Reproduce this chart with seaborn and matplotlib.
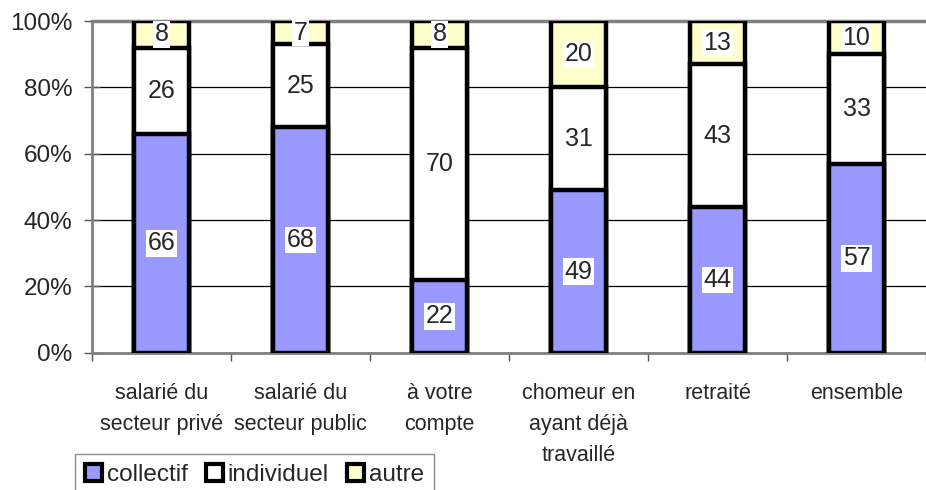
import numpy as np
import pandas as pd
import seaborn as sns
import matplotlib.pyplot as plt
from matplotlib.patches import Patch
from matplotlib.ticker import FuncFormatter, FixedLocator

# données (en %)
categories = ['salarié du\nsecteur privé', 'salarié du\nsecteur public', 'à votre\ncompte',
              'chomeur en\nayant déjà\ntravaillé', 'retraité', 'ensemble']
collectif = [66, 68, 22, 49, 44, 57]
individuel = [26, 25, 70, 31, 43, 33]
autre = [8, 7, 8, 20, 13, 10]

c_coll = '#9999FF'
c_ind = '#FFFFFF'
c_aut = '#FFFFCC'

df = pd.DataFrame({'cat': categories, 'collectif': collectif,
                   'individuel': individuel, 'autre': autre})
df['bas'] = df['collectif']
df['milieu'] = df['collectif'] + df['individuel']
df['total'] = df['milieu'] + df['autre']

sns.set_style('white')
plt.rcParams['font.family'] = ['Liberation Sans', 'DejaVu Sans']
narrow = ['Liberation Sans Narrow', 'Liberation Sans', 'DejaVu Sans']

fig = plt.figure(figsize=(9.26, 4.9), dpi=100)
ax = fig.add_axes([0.0994, 0.280, 0.9006, 0.677])

# barres empilées : on dessine du total vers le bas
lw = 3.2
for col, c in [('total', c_aut), ('milieu', c_ind), ('bas', c_coll)]:
    sns.barplot(data=df, x='cat', y=col, color=c, saturation=1, width=0.4,
                edgecolor='black', linewidth=lw, ax=ax, zorder=3)
for p in ax.patches:
    p.set_joinstyle('miter')

# étiquettes de valeurs
box = dict(boxstyle='square,pad=0.05', facecolor='white', edgecolor='none')
for i, row in df.iterrows():
    ax.text(i, row['collectif'] / 2, str(row['collectif']), ha='center', va='center',
            fontsize=18, bbox=box, zorder=5)
    ax.text(i, row['collectif'] + row['individuel'] / 2, str(row['individuel']),
            ha='center', va='center', fontsize=18, bbox=box, zorder=5)
    ax.text(i, row['milieu'] + row['autre'] / 2, str(row['autre']), ha='center',
            va='center', fontsize=18, bbox=box, zorder=5)

# axes
ax.set_xlim(-0.5, len(categories) - 0.5)
ax.set_ylim(0, 100)
ax.set_yticks(np.arange(0, 101, 20))
ax.yaxis.set_major_formatter(FuncFormatter(lambda v, _: f'{v:.0f}%'))
ax.set_xlabel('')
ax.set_ylabel('')

ax.yaxis.grid(True, color='black', linewidth=0.9)
ax.set_axisbelow(True)
ax.tick_params(axis='y', left=True, direction='inout', length=12, width=1,
               color='#555555', labelsize=17.5, pad=8)
ax.tick_params(axis='x', which='major', length=0, pad=22)
ax.xaxis.set_minor_locator(FixedLocator(np.arange(-0.5, len(categories), 1)))
ax.tick_params(axis='x', which='minor', bottom=True, length=6, width=1, color='#555555')
for lab in ax.get_xticklabels():
    lab.set_family(narrow)
    lab.set_fontsize(15.5)
    lab.set_linespacing(1.6)
    lab.set_va('top')

for s in ['left', 'bottom', 'top']:
    ax.spines[s].set_color('#808080')
    ax.spines[s].set_linewidth(2)
ax.spines['top'].set_linewidth(2.5)
ax.spines['right'].set_visible(False)

# légende
handles = [Patch(facecolor=c_coll, edgecolor='black', linewidth=3, label='collectif'),
           Patch(facecolor=c_ind, edgecolor='black', linewidth=3, label='individuel'),
           Patch(facecolor=c_aut, edgecolor='black', linewidth=3, label='autre')]
leg = fig.legend(handles=handles, loc='upper left', bbox_to_anchor=(0.081, 0.073),
                 ncol=3, frameon=True, fancybox=False, fontsize=17.5,
                 handlelength=0.7, handleheight=0.7, handletextpad=0.2,
                 columnspacing=0.75, borderpad=0.4, borderaxespad=0)
leg.get_frame().set_edgecolor('#707070')
leg.get_frame().set_linewidth(1)
for t in leg.get_texts():
    t.set_family(narrow)

plt.savefig('out.png', dpi=100)
